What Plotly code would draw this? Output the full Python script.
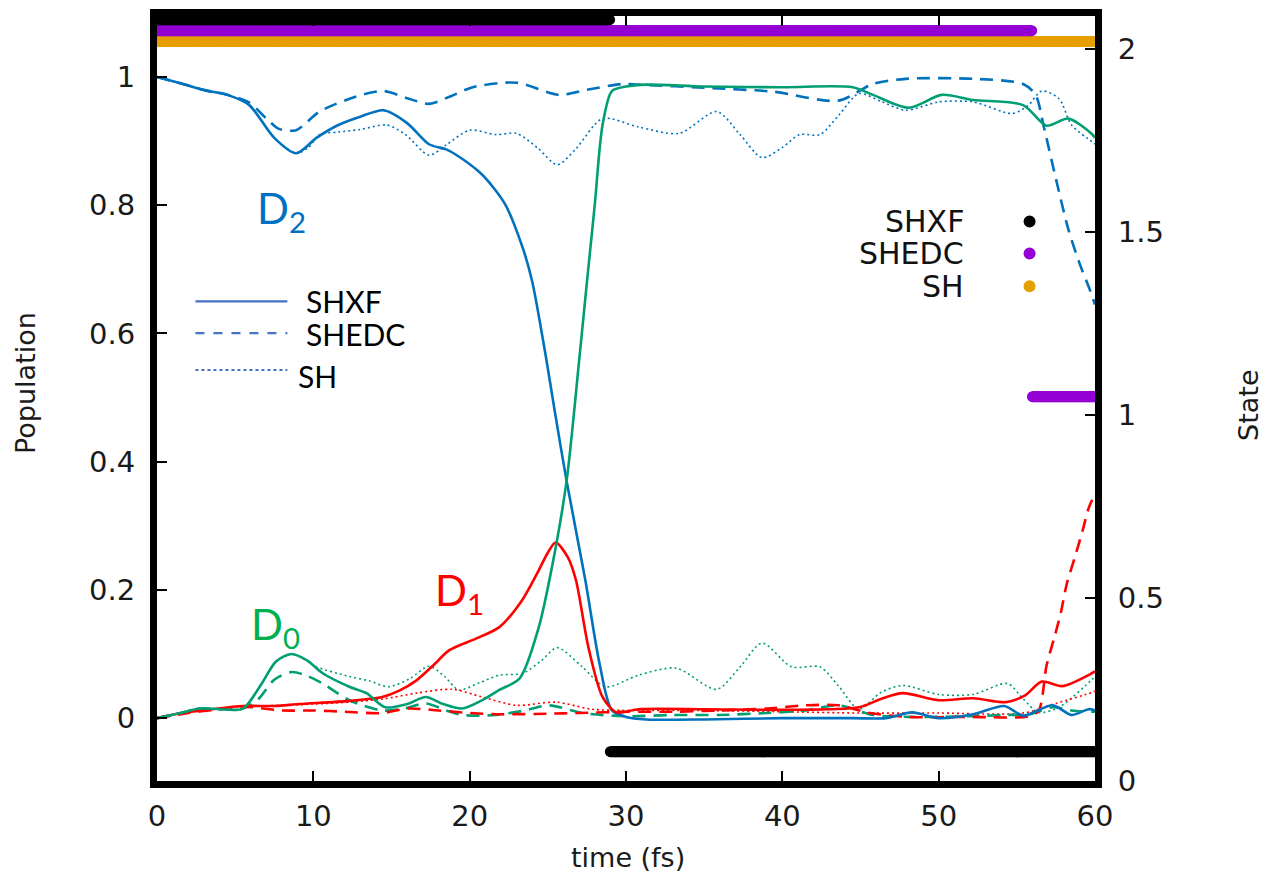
import numpy as np
import plotly.graph_objects as go

# ---------------- data ----------------
# SHXF (solid lines)
t_shxf_d2 = [0, 1.5, 3.1, 4.5, 5.9, 7.5, 8.9, 10.2, 11.6, 13.0, 14.5, 16.0, 17.4, 18.5, 19.1, 20.6, 21.5,
             22.3, 23.4, 24.0, 24.9, 25.4, 26.2, 27.4, 28.3, 29.1, 30.0, 31.3, 35.0, 40.0, 44.5, 46.6, 48.3,
             50.0, 52.2, 54.2, 55.4, 57.3, 58.5, 59.6, 60]
p_shxf_d2 = [1.0, 0.99, 0.979, 0.972, 0.956, 0.905, 0.881, 0.905, 0.925, 0.938, 0.948, 0.928, 0.895, 0.887,
             0.879, 0.852, 0.828, 0.80, 0.733, 0.681, 0.56, 0.485, 0.37, 0.215, 0.086, 0.012, 0.002, -0.002,
             -0.002, 0.0, 0.0, 0.0, 0.009, 0.0, 0.006, 0.019, 0.004, 0.02, 0.005, 0.014, 0.012]

t_shxf_d1 = [0, 1.6, 3.5, 5.5, 7.5, 9.1, 12.3, 14.4, 15.5, 16.6, 17.7, 18.7, 20.4, 21.9, 23.3, 24.3, 25.0,
             25.5, 26.3, 26.8, 27.6, 28.5, 29.4, 30.8, 35.1, 40.0, 44.9, 46.3, 47.7, 50.0, 52.2, 54.3, 55.5,
             56.6, 57.9, 59.8, 60]
p_shxf_d1 = [0, 0.008, 0.014, 0.019, 0.019, 0.022, 0.027, 0.033, 0.043, 0.059, 0.083, 0.106, 0.124, 0.142,
             0.182, 0.225, 0.258, 0.274, 0.25, 0.215, 0.11, 0.033, 0.009, 0.014, 0.014, 0.013, 0.017, 0.03,
             0.039, 0.028, 0.031, 0.025, 0.035, 0.057, 0.05, 0.07, 0.073]

t_shxf_d0 = [0, 1.5, 2.7, 4.0, 5.5, 6.7, 7.6, 8.6, 9.6, 10.6, 12.3, 13.4, 14.6, 16.0, 17.2, 18.3, 19.5, 20.8,
             21.9, 23.2, 24.4, 25.3, 26.2, 27.0, 27.5, 28.0, 28.5, 29.1, 30.0, 31.3, 35.0, 40.0, 44.5, 45.8,
             48.1, 50.2, 52.2, 55.4, 56.9, 58.3, 59.8, 60]
p_shxf_d0 = [0, 0.008, 0.015, 0.014, 0.015, 0.054, 0.088, 0.10, 0.09, 0.07, 0.049, 0.039, 0.017, 0.022, 0.033,
             0.022, 0.015, 0.028, 0.044, 0.062, 0.14, 0.24, 0.37, 0.557, 0.68, 0.80, 0.925, 0.978, 0.985,
             0.988, 0.985, 0.984, 0.984, 0.972, 0.952, 0.972, 0.964, 0.956, 0.924, 0.935, 0.911, 0.905]

# SHEDC (dashed lines)
t_shedc_d2 = [0, 1.5, 3.1, 4.5, 5.9, 7.0, 7.8, 8.9, 10.4, 12.7, 14.5, 16.1, 17.4, 18.8, 20.2, 23.0, 25.7, 27.5,
              29.8, 30.8, 35.1, 39.4, 43.6, 45.8, 47.9, 52.2, 55.4, 56.2, 56.7, 57.5, 58.3, 59.0, 59.7, 60]
p_shedc_d2 = [1.0, 0.99, 0.979, 0.972, 0.96, 0.935, 0.919, 0.917, 0.946, 0.969, 0.978, 0.966, 0.958, 0.97,
              0.984, 0.991, 0.972, 0.98, 0.989, 0.988, 0.983, 0.977, 0.963, 0.989, 0.997, 0.997, 0.989, 0.972,
              0.925, 0.841, 0.762, 0.71, 0.666, 0.645]

t_shedc_d1 = [0, 2, 4, 5.5, 8, 10, 12, 14.4, 16, 18, 20, 22, 25, 27, 30, 33, 36, 39, 41.5, 43.6, 45.6, 48, 52,
              55.8, 56.4, 56.9, 57.4, 57.8, 58.2, 58.7, 59.2, 59.6, 60]
p_shedc_d1 = [0, 0.008, 0.014, 0.018, 0.012, 0.012, 0.01, 0.008, 0.015, 0.012, 0.008, 0.006, 0.007, 0.008,
              0.01, 0.01, 0.012, 0.015, 0.02, 0.02, 0.008, 0.002, 0.002, 0.003, 0.012, 0.082, 0.126, 0.163,
              0.21, 0.25, 0.292, 0.328, 0.35]

t_shedc_d0 = [0, 1.5, 2.7, 4.0, 5.5, 6.5, 7.5, 8.6, 9.6, 10.6, 12.3, 14.4, 15.8, 17.2, 18.5, 19.5, 21.7, 23.5,
              25.1, 27.2, 30, 33, 36, 39, 41.5, 43.6, 45.8, 48, 50, 52, 54.3, 55.8, 57.3, 58.5, 59.8, 60]
p_shedc_d0 = [0, 0.008, 0.015, 0.014, 0.015, 0.03, 0.06, 0.072, 0.066, 0.054, 0.028, 0.012, 0.015, 0.023,
              0.012, 0.005, 0.005, 0.012, 0.02, 0.008, 0.003, 0.005, 0.005, 0.008, 0.012, 0.02, 0.005, 0.002,
              0.002, 0.003, 0.005, 0.006, 0.017, 0.012, 0.01, 0.01]

# SH (dotted lines)
t_sh_d2 = [0, 1.5, 3.1, 4.5, 5.9, 7.5, 8.9, 9.7, 10.4, 11.6, 13, 14.7, 15.9, 17.4, 18.5, 20, 21.7, 23, 24.4,
           25.6, 26.8, 28.5, 30.8, 33.4, 35.8, 37.3, 38.7, 40, 41.1, 42.4, 43.6, 44.9, 46.3, 47.9, 50, 52.2,
           54.7, 55.7, 56.6, 57.7, 58.5, 59.8, 60]
p_sh_d2 = [1.0, 0.99, 0.979, 0.972, 0.956, 0.905, 0.881, 0.89, 0.91, 0.914, 0.918, 0.925, 0.91, 0.878, 0.894,
           0.917, 0.91, 0.912, 0.888, 0.863, 0.888, 0.935, 0.922, 0.912, 0.946, 0.91, 0.874, 0.89, 0.91, 0.91,
           0.94, 0.974, 0.962, 0.948, 0.961, 0.961, 0.943, 0.955, 0.978, 0.966, 0.925, 0.899, 0.895]

t_sh_d1 = [0, 2, 4, 5.5, 8, 10, 12.3, 14.5, 16.6, 18.9, 20.8, 23, 25.5, 27.8, 30, 35, 40, 45, 50, 55.4, 57.5,
           59.8, 60]
p_sh_d1 = [0, 0.01, 0.015, 0.018, 0.02, 0.022, 0.025, 0.03, 0.039, 0.045, 0.033, 0.02, 0.025, 0.014, 0.012,
           0.012, 0.01, 0.008, 0.008, 0.008, 0.023, 0.04, 0.042]

t_sh_d0 = [0, 1.5, 2.7, 4.0, 5.5, 6.7, 7.6, 8.6, 9.4, 10.2, 12.3, 13.6, 14.8, 16.2, 17.4, 18.4, 19.3, 20.6,
           21.9, 23.4, 24.6, 25.6, 27.2, 28.7, 30.8, 33.2, 35.8, 37.3, 38.7, 40.6, 42.4, 43.6, 44.9, 46.3,
           47.7, 50, 52.2, 54.4, 55.4, 56.4, 57.7, 59.8, 60]
p_sh_d0 = [0, 0.008, 0.015, 0.014, 0.015, 0.054, 0.088, 0.10, 0.092, 0.08, 0.065, 0.058, 0.049, 0.062, 0.081,
           0.065, 0.044, 0.055, 0.067, 0.07, 0.09, 0.11, 0.08, 0.049, 0.067, 0.078, 0.045, 0.08, 0.117, 0.08,
           0.08, 0.05, 0.014, 0.04, 0.051, 0.037, 0.037, 0.054, 0.03, 0.009, 0.017, 0.06, 0.065]

# Running (active) state of each method, sampled at the simulation time steps
state_time = np.round(np.arange(0, 60.0001, 0.05), 3)
shxf_hops = [(0.0, 2), (29.0, 0)]     # (time, new state)
shedc_hops = [(0.0, 2), (56.0, 1)]
sh_hops = [(0.0, 2)]
state_offset = {"SHXF": 0.08, "SHEDC": 0.05, "SH": 0.02}   # vertical separation used in the figure

x_ticks = [0, 10, 20, 30, 40, 50, 60]
y_ticks = [0, 0.2, 0.4, 0.6, 0.8, 1.0]
y_ticktext = ["0", "0.2", "0.4", "0.6", "0.8", "1"]
y2_ticks = [0, 0.5, 1.0, 1.5, 2.0]
y2_ticktext = ["0", "0.5", "1", "1.5", "2"]


def state_series(hops):
    s = np.zeros_like(state_time)
    for t0, st in hops:
        s[state_time >= t0] = st
    return s


# ---------------- styling ----------------
BLUE = "#0072BD"
GREEN = "#009E73"
RED = "#FF0000"
PURPLE = "#9400D3"
ORANGE = "#E69F00"
TICKFONT = dict(family="DejaVu Sans", size=29, color="#1a1a1a")

fig = go.Figure()

curves = [
    (t_sh_d2, p_sh_d2, BLUE, 1.6, "2px,3px"),
    (t_sh_d0, p_sh_d0, GREEN, 1.6, "2px,3px"),
    (t_sh_d1, p_sh_d1, RED, 1.6, "2px,3px"),
    (t_shedc_d2, p_shedc_d2, BLUE, 2.6, "13px,8px"),
    (t_shedc_d0, p_shedc_d0, GREEN, 2.6, "13px,8px"),
    (t_shedc_d1, p_shedc_d1, RED, 2.6, "13px,8px"),
    (t_shxf_d2, p_shxf_d2, BLUE, 2.6, "solid"),
    (t_shxf_d1, p_shxf_d1, RED, 2.6, "solid"),
    (t_shxf_d0, p_shxf_d0, GREEN, 2.6, "solid"),
]
for tx, py, col, w, dash in curves:
    fig.add_trace(go.Scatter(x=tx, y=py, mode="lines",
                             line=dict(color=col, width=w, dash=dash, shape="spline", smoothing=0.8),
                             showlegend=False, hoverinfo="skip"))

for name, hops, col in [("SH", sh_hops, ORANGE), ("SHEDC", shedc_hops, PURPLE), ("SHXF", shxf_hops, "black")]:
    fig.add_trace(go.Scatter(x=state_time, y=state_series(hops) + state_offset[name], yaxis="y2",
                             mode="markers", marker=dict(color=col, size=11, line=dict(width=0)),
                             cliponaxis=False, showlegend=False, hoverinfo="skip"))

# pixel helpers for annotation placement (plot area: x 157..1095, y 14..781)
X0, XW = 156.5, 939.0 / 60.0
def tx_(px):
    return (px - X0) / XW
def py_(px):
    return (718.0 - px) / 643.0
def paper_x(px):
    return (px - 157.0) / 938.0
def paper_y(px):
    return (781.0 - px) / 767.0

TITLEFONT = dict(family="DejaVu Sans", size=27, color="#1a1a1a")
ann = []
# axis titles
ann.append(dict(x=paper_x(628), y=paper_y(858), xref="paper", yref="paper", text="time (fs)",
                showarrow=False, xanchor="center", yanchor="middle", font=TITLEFONT))
ann.append(dict(x=paper_x(25), y=paper_y(382), xref="paper", yref="paper", text="Population",
                showarrow=False, textangle=-90, xanchor="center", yanchor="middle", font=TITLEFONT))
ann.append(dict(x=paper_x(1249), y=paper_y(405), xref="paper", yref="paper", text="State",
                showarrow=False, textangle=-90, xanchor="center", yanchor="middle", font=TITLEFONT))
# state labels
ann.append(dict(x=tx_(255), y=py_(209), xref="x", yref="y", text="D<sub>2</sub>", showarrow=False,
                xanchor="left", font=dict(family="Lato", size=42, color="#0070C0")))
ann.append(dict(x=tx_(433), y=py_(592), xref="x", yref="y", text="D<sub>1</sub>", showarrow=False,
                xanchor="left", font=dict(family="Lato", size=42, color="#FF0000")))
ann.append(dict(x=tx_(249), y=py_(627), xref="x", yref="y", text="D<sub>0</sub>", showarrow=False,
                xanchor="left", font=dict(family="Lato", size=42, color="#00B050")))
# line-style key (left)
for label, px_x, px_y in [("SHXF", 304, 300), ("SHEDC", 304, 333), ("SH", 296, 375)]:
    ann.append(dict(x=tx_(px_x), y=py_(px_y), xref="x", yref="y", text=label, showarrow=False,
                    xanchor="left", font=dict(family="Lato", size=30, color="black")))
# state key (right)
for label, px_y in [("SHXF", 220), ("SHEDC", 252), ("SH", 285)]:
    ann.append(dict(x=tx_(966), y=py_(px_y), xref="x", yref="y", text=label, showarrow=False,
                    xanchor="right", font=dict(family="DejaVu Sans", size=30, color="#111111")))

shapes = []
for dash, px_y, w in [("solid", 300, 2.2), ("dash", 332, 2.2), ("dot", 369, 2.0)]:
    shapes.append(dict(type="line", xref="x", yref="y", x0=tx_(195), x1=tx_(287), y0=py_(px_y), y1=py_(px_y),
                       line=dict(color="#4472C4", width=w, dash=dash)))
for col, px_y in [("black", 220), (PURPLE, 252), (ORANGE, 285)]:
    shapes.append(dict(type="circle", xref="x", yref="y", xsizemode="pixel", ysizemode="pixel",
                       xanchor=tx_(1030), yanchor=py_(px_y), x0=-6, x1=6, y0=-6, y1=6,
                       fillcolor=col, line=dict(width=0)))

fig.update_layout(
    width=1266, height=878,
    margin=dict(l=157, r=171, t=9, b=97),
    paper_bgcolor="white", plot_bgcolor="white",
    xaxis=dict(range=[0, 60], tickvals=x_ticks, ticks="inside", ticklen=10, tickwidth=2, tickcolor="black",
               showline=True, linewidth=7, linecolor="black", mirror="ticks", showgrid=False, zeroline=False,
               tickfont=TICKFONT, ticklabelstandoff=3),
    yaxis=dict(range=[-0.098, 1.095], tickvals=y_ticks, ticktext=y_ticktext, ticks="inside", ticklen=10,
               tickwidth=2, tickcolor="black", showline=True, linewidth=7, linecolor="black", showgrid=False,
               zeroline=False, tickfont=TICKFONT, ticklabelstandoff=9),
    yaxis2=dict(range=[0, 2.09], tickvals=y2_ticks, ticktext=y2_ticktext, overlaying="y", side="right",
                ticks="inside", ticklen=10, tickwidth=2, tickcolor="black", showline=True, linewidth=7,
                linecolor="black", showgrid=False, zeroline=False, tickfont=TICKFONT, ticklabelstandoff=10),
    annotations=ann,
    shapes=shapes,
    showlegend=False,
)

fig.write_html("out.html")
